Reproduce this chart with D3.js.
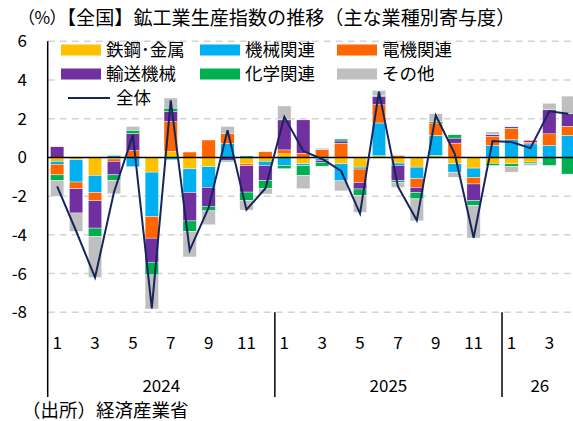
<!DOCTYPE html>
<html>
<head>
<meta charset="utf-8">
<script src="https://cdn.jsdelivr.net/npm/d3@7"></script>
<style>
  body { margin: 0; background: #fff; }
  svg  { display: block; }
  text { font-family: "Noto Sans CJK JP", "Noto Sans", sans-serif; fill: #000; }
</style>
</head>
<body>
<svg id="chart" width="573" height="421"></svg>
<script>
"use strict";

// ==========  Data  ==========
var monthLabels = ['1','2','3','4','5','6','7','8','9','10','11','12',
                   '1','2','3','4','5','6','7','8','9','10','11','12',
                   '1','2','3','4']
var yearLabels  = ['2024', '2025', '26']
var yearStarts  = [0, 12, 24, 28]   // index where each year begins (last = end)
var yTicks      = [6, 4, 2, 0, -2, -4, -6, -8]

var seriesNames  = ['鉄鋼･金属', '機械関連', '電機関連', '輸送機械', '化学関連', 'その他']
var seriesColors = ['#FFC000', '#00B0F0', '#FF6600', '#7030A0', '#00B050', '#BFBFBF']

var steel      = [-0.2,-0.12,-0.93,-0.08,0,-0.76,0.31,-0.59,-0.48,0,-0.33,-0.2,
                  0.19,-0.33,-0.05,-0.33,-0.5,0.09,-0.29,-0.5,0.1,-0.33,-0.55,-0.31,
                  -0.33,-0.24,0,0]
var machinery  = [-0.15,-1.15,-0.88,0.1,-0.48,-2.29,-0.12,-1.22,-1.07,0.72,0.08,-0.22,
                  -0.41,-0.1,-0.1,-0.88,-0.1,1.69,-0.12,-0.6,1.04,-0.43,-0.48,0.62,
                  0.91,0.7,0.62,1.14]
var electrical = [-0.55,-0.35,-0.43,-0.12,0.36,-1.12,1.55,0.28,0.9,0.5,-0.1,0.29,
                  0.2,0.22,0.4,0.73,-0.69,0.95,0.1,-0.45,0.64,0.74,-0.34,0.47,
                  0.6,0.09,0.6,0.47]
var transport  = [0.55,-1.25,-1.41,-0.7,0.88,-1.24,0.52,-1.47,-0.97,-0.17,-1.36,-0.78,
                  1.55,1.72,-0.1,0.12,-0.34,0.43,-0.79,-0.26,0,0.26,-0.86,0.09,
                  0.07,0.09,1.24,0.66]
var chemical   = [-0.3,0,-0.43,-0.28,0.17,-0.66,0.17,-0.55,-0.24,-0.05,-0.43,-0.41,
                  -0.17,-0.5,-0.2,0.1,-0.34,0.04,-0.09,-0.33,0.08,0.17,-0.24,-0.1,
                  -0.14,-0.09,-0.41,-0.86]
var other      = [-0.8,-0.95,-2.12,-0.7,0.19,-1.76,0.52,-1.31,-0.72,0.38,-0.5,-0.28,
                  0.72,-0.69,0.08,-0.52,-0.86,0.26,-0.26,-1.14,0.4,-0.26,-1.69,0.14,
                  -0.29,-0.09,0.34,0.9]
var total      = [-1.5,-3.8,-6.2,-1.8,1.15,-7.8,2.95,-4.8,-2.6,1.4,-2.7,-1.6,
                  2.1,0.33,-0.08,-0.7,-2.9,3.4,-1.5,-3.25,2.17,0.2,-4.15,0.85,
                  0.8,0.48,2.38,2.26]

var seriesValues = [steel, machinery, electrical, transport, chemical, other]

// ==========  Layout  ==========
var plotLeft = 47.7
var step     = 18.93
var svg      = d3.select('#chart')

var x = d3.scaleBand()
  .domain(d3.range(monthLabels.length))
  .range([plotLeft, plotLeft + step * monthLabels.length])
  .paddingInner(0.29)
  .paddingOuter(0.145)
var y = d3.scaleLinear().domain([-8, 6]).range([312.3, 41.3])

// table for d3.stack: one row per month, one key per series
var rows = monthLabels.map(function(m, i) {
  var row = {}
  seriesNames.forEach(function(name, k) { row[name] = seriesValues[k][i] })
  return row
})
var stacked = d3.stack().keys(seriesNames).offset(d3.stackOffsetDiverging)(rows)

// ==========  Gridlines and axis  ==========
svg.append('g').selectAll('line')
  .data(yTicks.filter(function(t) { return t != 0 }))
  .join('line')
  .attr('x1', plotLeft).attr('x2', 573)
  .attr('y1', function(d) { return y(d) }).attr('y2', function(d) { return y(d) })
  .attr('stroke', '#D4D4D4')
  .attr('stroke-width', 1.5)
  .attr('stroke-dasharray', '7,5')

svg.append('g').selectAll('text')
  .data(yTicks)
  .join('text')
  .attr('x', 27).attr('y', function(d) { return y(d) })
  .attr('dy', '0.35em')
  .attr('text-anchor', 'end')
  .style('font-size', '17px')
  .text(function(d) { return d })

// ==========  Legend background (sits over gridlines)  ==========
svg.append('rect').attr('x', 60).attr('y', 43).attr('width', 398).attr('height', 44).attr('fill', '#fff')
svg.append('rect').attr('x', 60).attr('y', 87).attr('width', 95).attr('height', 21).attr('fill', '#fff')

// ==========  Bars  ==========
svg.append('g').selectAll('g')
  .data(stacked)
  .join('g')
  .attr('fill', function(d, k) { return seriesColors[k] })
  .selectAll('rect')
  .data(function(d) { return d })
  .join('rect')
  .attr('x', function(d, i) { return x(i) })
  .attr('width', x.bandwidth())
  .attr('y', function(d) { return y(d[1]) })
  .attr('height', function(d) { return Math.abs(y(d[0]) - y(d[1])) })
  .attr('stroke', '#fff')
  .attr('stroke-width', 0.4)

// zero line
svg.append('line')
  .attr('x1', plotLeft).attr('x2', 573)
  .attr('y1', y(0)).attr('y2', y(0))
  .attr('stroke', '#000').attr('stroke-width', 1.5)

// ==========  Total line  ==========
var line = d3.line()
  .x(function(d, i) { return x(i) + x.bandwidth() / 2 })
  .y(function(d) { return y(d) })
svg.append('path')
  .datum(total)
  .attr('d', line)
  .attr('fill', 'none')
  .attr('stroke', '#16265C')
  .attr('stroke-width', 2)

// ==========  Category axis  ==========
svg.append('line')
  .attr('x1', plotLeft).attr('x2', plotLeft)
  .attr('y1', y(6)).attr('y2', 397)
  .attr('stroke', '#000').attr('stroke-width', 1.5)

svg.append('g').selectAll('line')
  .data(yearStarts.slice(1, 3))
  .join('line')
  .attr('x1', function(d) { return x.step() * d + plotLeft })
  .attr('x2', function(d) { return x.step() * d + plotLeft })
  .attr('y1', y(-8)).attr('y2', 397)
  .attr('stroke', '#000').attr('stroke-width', 1.5)

svg.append('g').selectAll('text')
  .data(monthLabels)
  .join('text')
  .filter(function(d, i) { return i % 2 == 0 })
  .attr('x', function(d, i) { return x(i * 2) + x.bandwidth() / 2 })
  .attr('y', 343)
  .attr('dy', '0.35em')
  .attr('text-anchor', 'middle')
  .style('font-size', '17px')
  .text(function(d) { return d })

svg.append('g').selectAll('text')
  .data(yearLabels)
  .join('text')
  .attr('x', function(d, i) {
    return plotLeft + x.step() * (yearStarts[i] + yearStarts[i + 1]) / 2
  })
  .attr('y', 386)
  .attr('dy', '0.35em')
  .attr('text-anchor', 'middle')
  .style('font-size', '17px')
  .text(function(d) { return d })

// ==========  Legend  ==========
var legendX = [67, 206, 343]
var legendY = [50, 74]
var legend = svg.append('g').selectAll('g')
  .data(seriesNames)
  .join('g')
  .attr('transform', function(d, k) {
    return 'translate(' + legendX[k % 3] + ',' + legendY[Math.floor(k / 3)] + ')'
  })
legend.append('rect')
  .attr('x', -6).attr('y', -5.5).attr('width', 40).attr('height', 11)
  .attr('fill', function(d, k) { return seriesColors[k] })
legend.append('text')
  .attr('x', 39).attr('dy', '0.35em')
  .style('font-size', '17.5px')
  .text(function(d) { return d })

svg.append('line')
  .attr('x1', 68).attr('x2', 110).attr('y1', 98).attr('y2', 98)
  .attr('stroke', '#16265C').attr('stroke-width', 2)
svg.append('text')
  .attr('x', 116).attr('y', 98).attr('dy', '0.35em')
  .style('font-size', '17.5px')
  .text('全体')

// ==========  Title and source  ==========
svg.append('text')
  .attr('x', 26).attr('y', 18).attr('dy', '0.35em')
  .style('font-size', '17px')
  .style('font-feature-settings', '"palt"')
  .text('（%）')
svg.append('text')
  .attr('x', 57).attr('y', 18).attr('dy', '0.35em')
  .style('font-size', '19.1px')
  .text('【全国】鉱工業生産指数の推移（主な業種別寄与度）')

svg.append('text')
  .attr('x', 22).attr('y', 411).attr('dy', '0.35em')
  .style('font-size', '18.5px')
  .text('（出所）経済産業省')
</script>
</body>
</html>
